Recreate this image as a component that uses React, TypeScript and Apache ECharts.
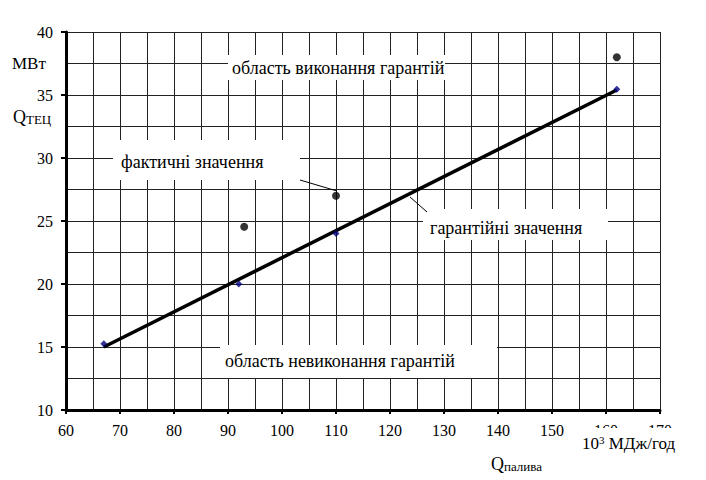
import React, { useEffect, useRef } from "react";
import * as echarts from "echarts";

const xTicks = [60, 70, 80, 90, 100, 110, 120, 130, 140, 150, 160, 170];
const yTicks = [10, 15, 20, 25, 30, 35, 40];
const guaranteedX = [67, 92, 110, 162];
const guaranteedY = [15.25, 20, 24, 35.45];
const actualX = [93, 110, 162];
const actualY = [24.55, 27, 38];
const trendX = [67, 162];
const trendY = [15, 35.4];

const FONT = "Liberation Serif";

export default function App() {
  const ref = useRef<HTMLDivElement>(null);
  useEffect(() => {
    document.body.style.margin = "0";
    const chart = echarts.init(ref.current!, undefined, { renderer: "svg" });
    const gridLine = { show: true, lineStyle: { color: "#222", width: 1 } };
    const box = (x: number, y: number, w: number, h: number) => ({
      type: "rect",
      z: 100,
      shape: { x, y, width: w, height: h },
      style: { fill: "#fff" },
    });
    const txt = (x: number, y: number, text: string, size = 18) => ({
      type: "text",
      z: 101,
      x,
      y,
      style: {
        text,
        fill: "#000",
        fontFamily: FONT,
        fontSize: size,
        verticalAlign: "middle",
      },
    });
    const rich = (x: number, y: number, text: string, subAlign: string, big: number, small: number) => ({
      type: "text",
      z: 101,
      x,
      y,
      style: {
        text,
        fill: "#000",
        fontFamily: FONT,
        fontSize: big,
        verticalAlign: "middle",
        rich: {
          a: { fontFamily: FONT, fontSize: big, color: "#000" },
          s: { fontFamily: FONT, fontSize: small, color: "#000", verticalAlign: subAlign },
        },
      },
    });
    chart.setOption({
      animation: false,
      backgroundColor: "#fff",
      textStyle: { fontFamily: FONT },
      grid: { left: 66, top: 32, right: 46, bottom: 70 },
      xAxis: {
        type: "value",
        min: xTicks[0],
        max: xTicks[xTicks.length - 1],
        interval: 10,
        axisLine: { show: true, lineStyle: { color: "#000", width: 3 } },
        axisTick: { show: true, length: 4, lineStyle: { color: "#000", width: 2 } },
        axisLabel: { color: "#000", fontFamily: FONT, fontSize: 16, margin: 12 },
        splitLine: gridLine,
        minorTick: { show: false, splitNumber: 2 },
        minorSplitLine: gridLine,
      },
      yAxis: {
        type: "value",
        min: yTicks[0],
        max: yTicks[yTicks.length - 1],
        interval: 5,
        axisLine: { show: true, lineStyle: { color: "#000", width: 3 } },
        axisTick: { show: true, length: 5, lineStyle: { color: "#000", width: 2 } },
        axisLabel: { color: "#000", fontFamily: FONT, fontSize: 16, margin: 13 },
        splitLine: gridLine,
        minorTick: { show: false, splitNumber: 2 },
        minorSplitLine: gridLine,
      },
      series: [
        {
          type: "line",
          data: trendX.map((x, i) => [x, trendY[i]]),
          symbol: "none",
          lineStyle: { color: "#000", width: 3.5 },
          z: 3,
        },
        {
          type: "scatter",
          data: guaranteedX.map((x, i) => [x, guaranteedY[i]]),
          symbol: "diamond",
          symbolSize: 7,
          itemStyle: { color: "#000080" },
          z: 4,
        },
        {
          type: "scatter",
          data: actualX.map((x, i) => [x, actualY[i]]),
          symbol: "circle",
          symbolSize: 8,
          itemStyle: { color: "#000" },
          z: 4,
        },
      ],
      graphic: [
        box(228, 55, 217, 25),
        txt(232, 68, "область виконання гарантій"),
        box(113, 140, 187, 40),
        txt(121, 162, "фактичні значення"),
        box(423, 209, 185, 31),
        txt(430, 228, "гарантійні значення"),
        box(220, 345, 277, 33),
        txt(225, 361, "область невиконання гарантій"),
        {
          type: "line",
          z: 102,
          shape: { x1: 300, y1: 180, x2: 337, y2: 191 },
          style: { stroke: "#000", lineWidth: 1 },
        },
        {
          type: "line",
          z: 102,
          shape: { x1: 427, y1: 212, x2: 410, y2: 197 },
          style: { stroke: "#000", lineWidth: 1 },
        },
        box(580, 428, 112, 26),
        rich(582, 443, "{a|10}{s|3}{a| МДж/год}", "top", 17, 11),
        rich(491, 464, "{a|Q}{s|палива}", "bottom", 18, 13),
        txt(12, 63, "МВт", 17),
        rich(13, 117, "{a|Q}{s|ТЕЦ}", "bottom", 18, 13),
      ],
    });
    return () => chart.dispose();
  }, []);
  return (
    <div
      ref={ref}
      style={{ position: "absolute", left: 0, top: 0, width: 706, height: 480 }}
    />
  );
}
